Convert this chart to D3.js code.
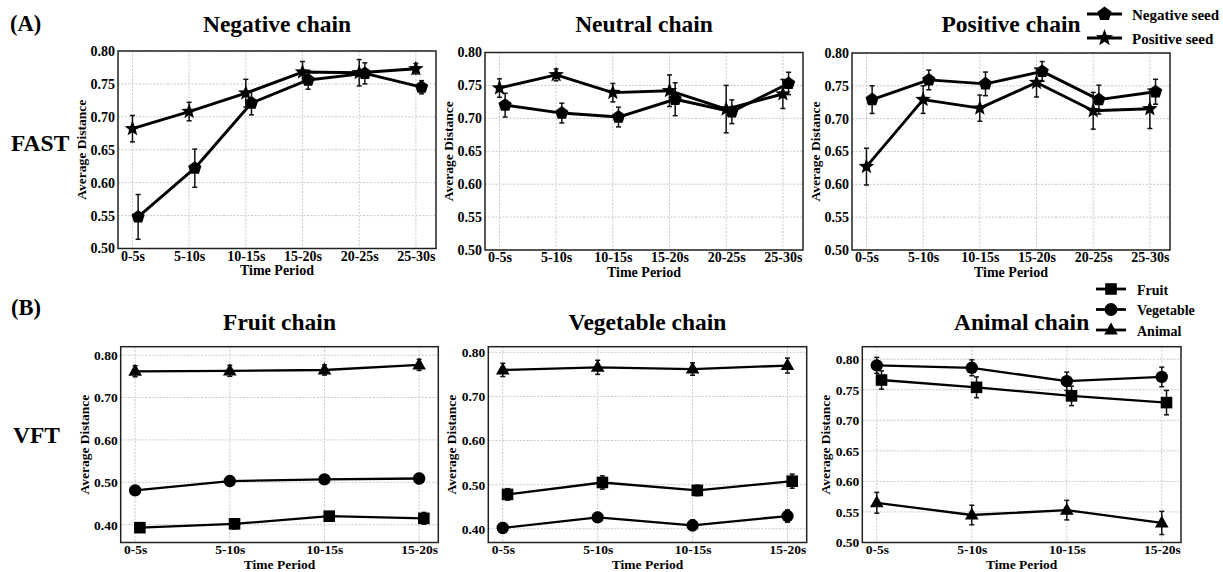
<!DOCTYPE html>
<html>
<head>
<meta charset="utf-8">
<script src="https://cdn.jsdelivr.net/npm/d3@7"></script>
<style>
  body { margin: 0; background: #fff; }
  svg { display: block; font-family: "Liberation Serif", "Times New Roman", serif; font-weight: bold; }
</style>
</head>
<body>
<script>
var width = 1223;
var height = 572;

// categories / ticks
var fastPeriods = ['0-5s', '5-10s', '10-15s', '15-20s', '20-25s', '25-30s'];
var vftPeriods = ['0-5s', '5-10s', '10-15s', '15-20s'];
var fastTicks = [0.50, 0.55, 0.60, 0.65, 0.70, 0.75, 0.80];
var vftTicks = [0.40, 0.50, 0.60, 0.70, 0.80];
var animalTicks = [0.50, 0.55, 0.60, 0.65, 0.70, 0.75, 0.80];

// (A) FAST: negative seed / positive seed
var negChainNeg = [0.548, 0.622, 0.721, 0.756, 0.766, 0.745];
var negChainNegErr = [0.034, 0.029, 0.018, 0.014, 0.016, 0.010];
var negChainPos = [0.682, 0.708, 0.736, 0.768, 0.767, 0.773];
var negChainPosErr = [0.020, 0.014, 0.021, 0.016, 0.020, 0.008];

var neuChainNeg = [0.720, 0.708, 0.702, 0.729, 0.710, 0.753];
var neuChainNegErr = [0.018, 0.015, 0.015, 0.025, 0.018, 0.017];
var neuChainPos = [0.746, 0.766, 0.739, 0.742, 0.714, 0.737];
var neuChainPosErr = [0.014, 0.009, 0.014, 0.024, 0.036, 0.022];

var posChainNeg = [0.729, 0.759, 0.753, 0.772, 0.729, 0.741];
var posChainNegErr = [0.021, 0.015, 0.018, 0.015, 0.022, 0.019];
var posChainPos = [0.627, 0.729, 0.716, 0.755, 0.712, 0.715];
var posChainPosErr = [0.028, 0.021, 0.020, 0.022, 0.028, 0.030];

// (B) VFT: fruit / vegetable / animal
var fruitChainFruit = [0.393, 0.402, 0.420, 0.415];
var fruitChainFruitErr = [0.010, 0.012, 0.011, 0.014];
var fruitChainVeg = [0.481, 0.503, 0.507, 0.509];
var fruitChainVegErr = [0.010, 0.008, 0.009, 0.012];
var fruitChainAnimal = [0.762, 0.763, 0.765, 0.777];
var fruitChainAnimalErr = [0.013, 0.013, 0.012, 0.013];

var vegChainFruit = [0.478, 0.505, 0.487, 0.508];
var vegChainFruitErr = [0.013, 0.015, 0.012, 0.016];
var vegChainVeg = [0.402, 0.426, 0.408, 0.429];
var vegChainVegErr = [0.012, 0.011, 0.012, 0.014];
var vegChainAnimal = [0.760, 0.766, 0.762, 0.770];
var vegChainAnimalErr = [0.015, 0.016, 0.014, 0.017];

var aniChainFruit = [0.766, 0.754, 0.740, 0.729];
var aniChainFruitErr = [0.015, 0.017, 0.016, 0.020];
var aniChainVeg = [0.790, 0.786, 0.764, 0.771];
var aniChainVegErr = [0.013, 0.013, 0.015, 0.016];
var aniChainAnimal = [0.565, 0.545, 0.553, 0.532];
var aniChainAnimalErr = [0.017, 0.016, 0.016, 0.019];

// marker shapes (size = radius)
function polygonPath(n, r, inner) {
  var p = d3.path();
  var k = inner ? n * 2 : n;
  for (var i = 0; i < k; i++) {
    var rr = inner && i % 2 ? r * inner : r;
    var a = -Math.PI / 2 + i * 2 * Math.PI / k;
    var x = Math.cos(a) * rr, y = Math.sin(a) * rr;
    if (i === 0) p.moveTo(x, y); else p.lineTo(x, y);
  }
  p.closePath();
  return p.toString();
}

var markers = {
  pentagon: function(r) { return polygonPath(5, r); },
  star: function(r) { return polygonPath(5, r, 0.42); },
  square: function(r) { return 'M' + (-r) + ',' + (-r) + 'h' + 2 * r + 'v' + 2 * r + 'h' + (-2 * r) + 'Z'; },
  circle: function(r) { return d3.symbol(d3.symbolCircle, Math.PI * r * r)(); },
  triangle: function(r) { return 'M0,' + (-r * 1.15) + 'L' + r * 1.05 + ',' + r * 0.7 + 'L' + (-r * 1.05) + ',' + r * 0.7 + 'Z'; }
};

var svg = d3.select('body').append('svg')
  .attr('width', width)
  .attr('height', height);

function Panel(opts) {
  var g = svg.append('g');
  var n = opts.categories.length;
  var x = d3.scaleLinear().domain(opts.xDomain).range([opts.left, opts.right]);
  var y = d3.scaleLinear().domain(opts.yDomain).range([opts.bottom, opts.top]);
  var fmt = d3.format('.2f');

  // grid
  g.append('g').selectAll('line.gx')
    .data(d3.range(n))
    .enter().append('line')
      .attr('x1', function(d) { return x(d); })
      .attr('x2', function(d) { return x(d); })
      .attr('y1', opts.top).attr('y2', opts.bottom)
      .attr('stroke', '#c8c8c8').attr('stroke-width', 1).attr('stroke-dasharray', '2,1.5');
  g.append('g').selectAll('line.gy')
    .data(opts.ticks)
    .enter().append('line')
      .attr('y1', function(d) { return y(d); })
      .attr('y2', function(d) { return y(d); })
      .attr('x1', opts.left).attr('x2', opts.right)
      .attr('stroke', '#c8c8c8').attr('stroke-width', 1).attr('stroke-dasharray', '2,1.5');

  // axes
  var xAxis = d3.axisBottom(x)
    .tickValues(d3.range(n))
    .tickFormat(function(i) { return opts.categories[i]; })
    .tickSize(0).tickPadding(opts.tickPad);
  var yAxis = d3.axisLeft(y)
    .tickValues(opts.ticks)
    .tickFormat(fmt)
    .tickSize(0).tickPadding(3);

  var gx = g.append('g').attr('transform', 'translate(0,' + opts.bottom + ')').call(xAxis);
  var gy = g.append('g').attr('transform', 'translate(' + opts.left + ',0)').call(yAxis);
  [gx, gy].forEach(function(a) {
    a.select('.domain').remove();
    a.selectAll('text')
      .attr('font-family', '"Liberation Serif", serif')
      .attr('font-weight', 'bold')
      .attr('font-size', opts.tickFont)
      .attr('fill', '#000');
  });

  // series
  opts.series.forEach(function(s) {
    var pts = s.values.map(function(v, i) {
      return { x: x(i + s.shift), y: y(v), lo: y(v - s.err[i]), hi: y(v + s.err[i]) };
    });
    var line = d3.line().x(function(d) { return d.x; }).y(function(d) { return d.y; });
    g.append('path')
      .attr('d', line(pts))
      .attr('fill', 'none').attr('stroke', '#000')
      .attr('stroke-width', opts.lineWidth).attr('stroke-linejoin', 'round');

    var eb = g.append('g').attr('stroke', '#111').attr('stroke-width', 1.5);
    eb.selectAll('line.v').data(pts).enter().append('line')
      .attr('x1', function(d) { return d.x; }).attr('x2', function(d) { return d.x; })
      .attr('y1', function(d) { return d.lo; }).attr('y2', function(d) { return d.hi; });
    eb.selectAll('line.t').data(pts).enter().append('line')
      .attr('x1', function(d) { return d.x - 2.5; }).attr('x2', function(d) { return d.x + 2.5; })
      .attr('y1', function(d) { return d.hi; }).attr('y2', function(d) { return d.hi; });
    eb.selectAll('line.b').data(pts).enter().append('line')
      .attr('x1', function(d) { return d.x - 2.5; }).attr('x2', function(d) { return d.x + 2.5; })
      .attr('y1', function(d) { return d.lo; }).attr('y2', function(d) { return d.lo; });

    g.append('g').selectAll('path')
      .data(pts).enter().append('path')
        .attr('transform', function(d) { return 'translate(' + d.x + ',' + d.y + ')'; })
        .attr('d', markers[s.marker](s.size))
        .attr('fill', '#000');
  });

  // frame
  g.append('rect')
    .attr('x', opts.left).attr('y', opts.top)
    .attr('width', opts.right - opts.left).attr('height', opts.bottom - opts.top)
    .attr('fill', 'none').attr('stroke', '#222').attr('stroke-width', 1.5);

  // labels
  g.append('text')
    .attr('x', (opts.left + opts.right) / 2).attr('y', opts.titleY)
    .attr('text-anchor', 'middle').attr('font-size', 23.5)
    .text(opts.title);
  g.append('text')
    .attr('x', (opts.left + opts.right) / 2).attr('y', opts.bottom + opts.timeOffset)
    .attr('text-anchor', 'middle').attr('font-size', opts.timeFont)
    .text('Time Period');
  g.append('text')
    .attr('transform', 'translate(' + (opts.left - 32) + ',' + (opts.top + opts.bottom) / 2 + ') rotate(-90)')
    .attr('text-anchor', 'middle').attr('font-size', 13.5)
    .text('Average Distance');
}

var fastX = [-0.255, 5.355];
var vftX = [-0.1525, 3.2025];

function fastSeries(neg, negErr, pos, posErr) {
  return [
    { values: neg, err: negErr, shift: 0.1, marker: 'pentagon', size: 7 },
    { values: pos, err: posErr, shift: 0, marker: 'star', size: 8.2 }
  ];
}
function vftSeries(fr, frErr, ve, veErr, an, anErr) {
  return [
    { values: fr, err: frErr, shift: 0.05, marker: 'square', size: 5.8 },
    { values: ve, err: veErr, shift: 0, marker: 'circle', size: 6.2 },
    { values: an, err: anErr, shift: 0, marker: 'triangle', size: 6.5 }
  ];
}

var topRow = { titleY: 32, categories: fastPeriods, ticks: fastTicks, xDomain: fastX, yDomain: [0.50, 0.80],
  lineWidth: 2.9, tickPad: 2.5, tickFont: 14, timeFont: 14, timeOffset: 26.5 };
var bottomRow = { titleY: 330, categories: vftPeriods, xDomain: vftX, top: 346.7, bottom: 542.5,
  lineWidth: 2.3, tickPad: 2, tickFont: 13.5, timeFont: 13.5, timeOffset: 26.5 };

new Panel(Object.assign({}, topRow, { title: 'Negative chain', left: 118, right: 436, top: 51, bottom: 248.5,
  series: fastSeries(negChainNeg, negChainNegErr, negChainPos, negChainPosErr) }));
new Panel(Object.assign({}, topRow, { title: 'Neutral chain', left: 485, right: 803, top: 52.5, bottom: 250,
  series: fastSeries(neuChainNeg, neuChainNegErr, neuChainPos, neuChainPosErr) }));
new Panel(Object.assign({}, topRow, { title: 'Positive chain', left: 852, right: 1170, top: 53, bottom: 250,
  series: fastSeries(posChainNeg, posChainNegErr, posChainPos, posChainPosErr) }));

new Panel(Object.assign({}, bottomRow, { title: 'Fruit chain', ticks: vftTicks, left: 120.7, right: 438.3,
  yDomain: [0.358, 0.820],
  series: vftSeries(fruitChainFruit, fruitChainFruitErr, fruitChainVeg, fruitChainVegErr, fruitChainAnimal, fruitChainAnimalErr) }));
new Panel(Object.assign({}, bottomRow, { title: 'Vegetable chain', ticks: vftTicks, left: 488.3, right: 806.7,
  yDomain: [0.369, 0.8127],
  series: vftSeries(vegChainFruit, vegChainFruitErr, vegChainVeg, vegChainVegErr, vegChainAnimal, vegChainAnimalErr) }));
new Panel(Object.assign({}, bottomRow, { title: 'Animal chain', ticks: animalTicks, left: 862.3, right: 1181,
  yDomain: [0.500, 0.8205],
  series: vftSeries(aniChainFruit, aniChainFruitErr, aniChainVeg, aniChainVegErr, aniChainAnimal, aniChainAnimalErr) }));

// row labels
svg.append('text').attr('x', 10).attr('y', 31).attr('font-size', 22.5).text('(A)');
svg.append('text').attr('x', 11).attr('y', 151).attr('font-size', 23.5).text('FAST');
svg.append('text').attr('x', 11).attr('y', 315).attr('font-size', 22.5).text('(B)');
svg.append('text').attr('x', 13).attr('y', 443).attr('font-size', 23.5).text('VFT');

// legends
function legend(items, x0, x1, tx, ys, fontSize) {
  var lg = svg.append('g');
  items.forEach(function(it, i) {
    var cy = ys[i];
    lg.append('line').attr('x1', x0).attr('x2', x1).attr('y1', cy).attr('y2', cy)
      .attr('stroke', '#000').attr('stroke-width', 2.8);
    lg.append('path').attr('transform', 'translate(' + (x0 + x1) / 2 + ',' + cy + ')')
      .attr('d', markers[it.marker](it.size)).attr('fill', '#000');
    lg.append('text').attr('x', tx).attr('y', cy + 5.5).attr('font-size', fontSize).text(it.label);
  });
}

legend([
  { label: 'Negative seed', marker: 'pentagon', size: 7.5 },
  { label: 'Positive seed', marker: 'star', size: 9 }
], 1087, 1122, 1132, [14, 38], 15);

legend([
  { label: 'Fruit', marker: 'square', size: 5.8 },
  { label: 'Vegetable', marker: 'circle', size: 6.5 },
  { label: 'Animal', marker: 'triangle', size: 6.5 }
], 1096, 1126, 1137, [289, 309.5, 330], 14);
</script>
</body>
</html>
